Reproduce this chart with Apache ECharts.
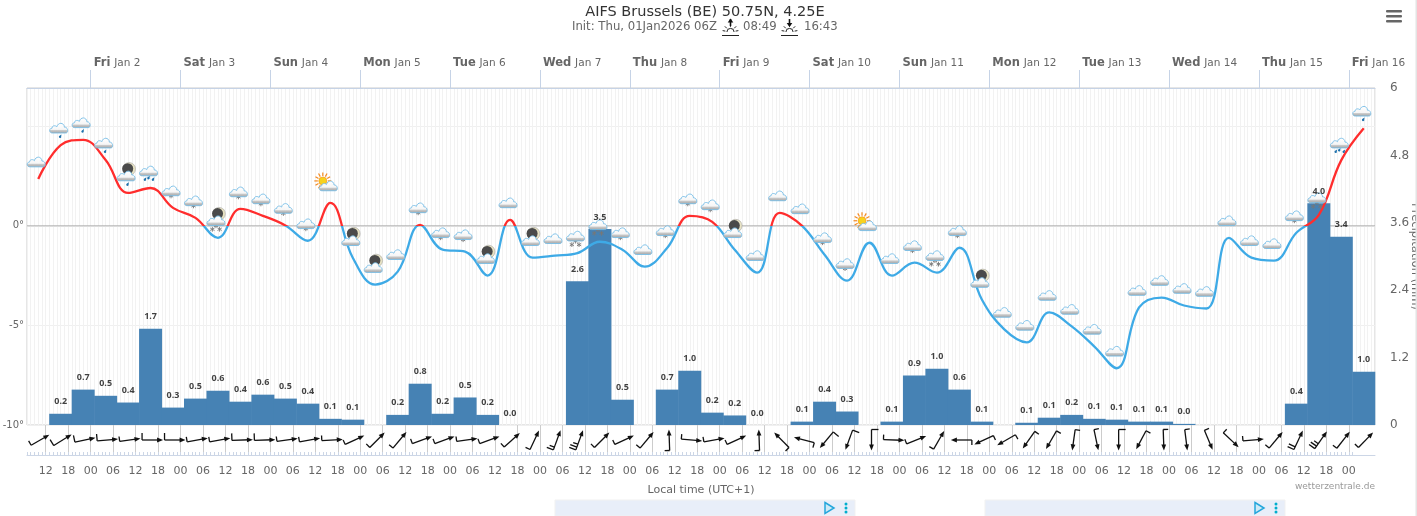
<!DOCTYPE html>
<html><head><meta charset="utf-8">
<style>html,body{margin:0;padding:0;background:#fff;overflow:hidden}#c{width:1417px;height:516px}</style>
<script src="https://cdn.jsdelivr.net/npm/echarts@6/dist/echarts.min.js"></script>
</head><body><div id="c"></div>
<script>
// ---------- data ----------
const temps = [2.35,4.05,4.32,3.3,1.65,1.9,0.9,0.4,-0.6,0.85,0.5,0.02,-0.75,1.15,-1.6,-2.95,-2.3,0.05,-1.2,-1.3,
 -2.5,0.3,-1.6,-1.5,-1.37,-0.8,-1.2,-2.05,-1.1,0.5,0.2,-1.2,-2.35,0.65,0.0,-1.45,-2.75,-0.85,-2.5,-1.85,
 -2.35,-1.1,-3.7,-5.2,-5.85,-4.35,-5.05,-6.05,-7.15,-4.1,-3.6,-4.0,-4.15,-0.6,-1.6,-1.75,-0.35,0.55,3.3,4.9];
const precip = [0.20,0.63,0.52,0.40,1.715,0.31,0.47,0.61,0.415,0.54,0.47,0.38,0.11,0.095,null,0.18,0.735,0.20,0.49,0.18,
 0,null,null,2.56,3.49,0.45,null,0.63,0.967,0.22,0.17,0,null,0.06,0.415,0.24,null,0.06,0.88,1.0,
 0.63,0.06,null,0.04,0.13,0.18,0.11,0.095,0.06,0.06,0.02,null,null,null,null,0.38,3.95,3.35,0.95];
const precipLabels = ['0.2','0.7','0.5','0.4','1.7','0.3','0.5','0.6','0.4','0.6','0.5','0.4','0.1','0.1',null,'0.2','0.8','0.2','0.5','0.2',
 '0.0',null,null,'2.6','3.5','0.5',null,'0.7','1.0','0.2','0.2','0.0',null,'0.1','0.4','0.3',null,'0.1','0.9','1.0',
 '0.6','0.1',null,'0.1','0.1','0.2','0.1','0.1','0.1','0.1','0.0',null,null,null,null,'0.4','4.0','3.4','1.0'];
const windAngle = [30,32,12,5,8,0,0,10,10,2,2,8,10,3,25,45,50,20,20,8,
 20,42,65,70,70,45,25,50,92,-5,10,25,92,135,165,230,250,270,-2,22,
 60,180,205,210,235,240,262,282,270,242,272,277,293,317,5,50,65,55,52,46];
const windKnots = [5,10,10,10,5,10,10,5,5,10,10,5,5,5,5,5,5,5,5,5,
 5,5,5,15,25,5,5,5,5,5,5,5,5,5,5,10,10,10,5,5,
 5,5,5,5,5,5,5,5,10,5,5,5,5,5,5,5,20,25,5,5];
const sky = ['c','r1','r1','r1','mr','r2','s1','s1','ms','s1','s1','s1','s1','u','m','m','c','s1','s1','s1',
 'm','c','m','c','s3','s3','s1','c','s1','s1','s1','m','c','c','c','s1','s1','u','c','s1',
 's3','s1','m','c','c','c','c','c','c','c','c','c','c','c','c','c','s1','s3','r3','r1'];
const dayLabels = ['Fri|Jan 2','Sat|Jan 3','Sun|Jan 4','Mon|Jan 5','Tue|Jan 6','Wed|Jan 7','Thu|Jan 8','Fri|Jan 9','Sat|Jan 10','Sun|Jan 11','Mon|Jan 12','Tue|Jan 13','Wed|Jan 14','Thu|Jan 15','Fri|Jan 16'];
const dayHours = dayLabels.map((_, i) => 24 * (i + 1));
const sixHourTicks = Array.from({length: 59}, (_, i) => 12 + 6 * i);
const hourTicks = Array.from({length: 355}, (_, i) => 7 + i);
const tempAxisTicks = [-10, -5, 0, 5];

const FONT = '"DejaVu Sans", sans-serif';
const chart = echarts.init(document.getElementById('c'), null, {renderer: 'canvas'});

const CLOUD = 'M-6.5,5 C-9.8,5 -9.8,0.2 -6.6,0.2 C-6.8,-2.4 -3.2,-2.6 -2,-1 C-1,-5.6 5,-5.6 5.4,-0.6 C8.8,-1.2 9.8,5 6.6,5 Z';
function star(x, y, r) {
  const out = [];
  for (let a = 0; a < 3; a++) {
    const t = a * Math.PI / 3 + Math.PI / 2;
    out.push({type: 'line', shape: {x1: x - r * Math.cos(t), y1: y - r * Math.sin(t), x2: x + r * Math.cos(t), y2: y + r * Math.sin(t)},
      style: {stroke: '#777', lineWidth: 0.9}});
  }
  return out;
}
function drop(x, y) {
  return {type: 'path', shape: {pathData: 'M1,0 L0.6,2 A1.3,1.3 0 1 1 -1.2,1.4 Z', x: x - 1.4, y: y - 1.7, width: 2.8, height: 3.6}, style: {fill: '#1f72ad'}};
}
function renderSky(params, api) {
  const p = api.coord([api.value(0), api.value(1)]);
  const kind = sky[params.dataIndex];
  const kids = [];
  if (kind[0] === 'm') {
    kids.push({type: 'circle', shape: {cx: 3, cy: -7, r: 6.4}, style: {fill: '#e8e3c4', stroke: '#999', lineWidth: 0.5}});
    kids.push({type: 'circle', shape: {cx: 1.6, cy: -7.2, r: 5.5}, style: {fill: '#4a4a4a'}});
  }
  if (kind === 'u') {
    for (let a = 0; a < 12; a++) {
      const t = Math.PI * 2 * a / 12;
      kids.push({type: 'line', shape: {x1: -5.5 + 5 * Math.cos(t), y1: -5 + 5 * Math.sin(t), x2: -5.5 + 8.5 * Math.cos(t), y2: -5 + 8.5 * Math.sin(t)},
        style: {stroke: '#f58a1f', lineWidth: 1.2}});
    }
    kids.push({type: 'circle', shape: {cx: -5.5, cy: -5, r: 4}, style: {fill: '#f7d21e', stroke: '#f58a1f', lineWidth: 0.6}});
  }
  if (kind[1] === 's' || kind[0] === 's') {
    const n = kind === 's1' ? 1 : 3;
    kids.push(...star(0, 5, 2.4));
    if (n === 3) { kids.push(...star(-3.6, 8.5, 2.4)); kids.push(...star(3.6, 8.5, 2.4)); }
  }
  if (kind === 'r1' || kind === 'mr') kids.push(drop(1.5, 8));
  if (kind === 'r2' || kind === 'r3') { kids.push(drop(-3.5, 8)); kids.push(drop(0, 6.5)); kids.push(drop(4.5, 8)); }
  kids.push({type: 'path', shape: {pathData: CLOUD, x: -9, y: -5.5, width: 18, height: 11},
    style: {fill: new echarts.graphic.LinearGradient(0, 0, 0, 1, [
      {offset: 0, color: '#ffffff'}, {offset: 0.62, color: '#f6f6f6'}, {offset: 0.72, color: '#c9c9c9'}, {offset: 1, color: '#a0a0a0'}]),
      stroke: '#77bde6', lineWidth: 0.9}});
  return {type: 'group', x: p[0] - 2, y: p[1] - 17, children: kids};
}
function renderBarb(params, api) {
  const p = api.coord([api.value(0), api.value(1)]);
  const a = windAngle[params.dataIndex] * Math.PI / 180;
  const kn = windKnots[params.dataIndex];
  const ux = Math.cos(a), uy = -Math.sin(a);       // flow direction on screen
  const lx = uy, ly = -ux;                         // left-hand side of the flow
  const cx = p[0] + 2, cy = p[1];
  const L = 10.5;
  const hx = cx + ux * L, hy = cy + uy * L, tx = cx - ux * L, ty = cy - uy * L;
  const st = {stroke: '#111', lineWidth: 1.3};
  const kids = [{type: 'line', shape: {x1: tx, y1: ty, x2: hx - ux * 3, y2: hy - uy * 3}, style: st}];
  kids.push({type: 'polygon', shape: {points: [[hx, hy], [hx - ux * 6 + lx * 2.4, hy - uy * 6 + ly * 2.4], [hx - ux * 6 - lx * 2.4, hy - uy * 6 - ly * 2.4]]}, style: {fill: '#111'}});
  let left = kn, d = 0;
  while (left > 0) {
    const len = left >= 10 ? 7 : 5;
    const bx = tx + ux * d, by = ty + uy * d;
    kids.push({type: 'line', shape: {x1: bx, y1: by, x2: bx + lx * len, y2: by + ly * len}, style: st});
    left -= 10; d += 3;
  }
  return {type: 'group', children: kids};
}

const hours = temps.map((_, i) => 10 + 6 * i);
const barHours = precip.map((_, i) => 16 + 6 * i);

function sunIcon(x, up) {
  const cx = x + 8.5, cy = 32;
  const kids = [];
  kids.push({type: 'line', shape: {x1: x, y1: 35.5, x2: x + 17, y2: 35.5}, style: {stroke: '#222', lineWidth: 1}});
  kids.push({type: 'arc', shape: {cx, cy, r: 3.6, startAngle: Math.PI, endAngle: 0}, style: {stroke: '#222', fill: null, lineWidth: 1}});
  for (const t of [190, 225, 270, 315, 350]) {
    const r = t * Math.PI / 180;
    kids.push({type: 'line', shape: {x1: cx + 5.2 * Math.cos(r), y1: cy + 5.2 * Math.sin(r), x2: cx + 8 * Math.cos(r), y2: cy + 8 * Math.sin(r)}, style: {stroke: '#222', lineWidth: 1}});
  }
  kids.push({type: 'line', shape: {x1: cx, y1: 19, x2: cx, y2: 26}, style: {stroke: '#111', lineWidth: 1.6}});
  kids.push({type: 'polygon', shape: {points: up ? [[cx, 18.5], [cx - 2.8, 22.5], [cx + 2.8, 22.5]] : [[cx, 27], [cx - 2.8, 23], [cx + 2.8, 23]]}, style: {fill: '#111'}});
  return {type: 'group', children: kids};
}
function adBox(x) {
  return {type: 'group', children: [
    {type: 'rect', shape: {x, y: 500, width: 300, height: 16}, style: {fill: '#e8eef9', stroke: '#f1f1f1', lineWidth: 1}},
    {type: 'polygon', shape: {points: [[x + 270, 502.5], [x + 279, 508], [x + 270, 513.5]]}, style: {fill: '#cfeaf6', stroke: '#25a7dc', lineWidth: 1.5}},
    {type: 'circle', shape: {cx: x + 291, cy: 504, r: 1.5}, style: {fill: '#00aecd'}},
    {type: 'circle', shape: {cx: x + 291, cy: 508, r: 1.5}, style: {fill: '#00aecd'}},
    {type: 'circle', shape: {cx: x + 291, cy: 512, r: 1.5}, style: {fill: '#00aecd'}}
  ]};
}

const option = {
  animation: false,
  backgroundColor: '#fff',
  textStyle: {fontFamily: FONT},
  grid: [
    {left: 27, right: 42, top: 88, height: 337, outerBoundsMode: 'none', containLabel: false, show: true, borderColor: '#cccccc', borderWidth: 1, backgroundColor: '#fff'},
    {left: 27, right: 42, top: 425, height: 30, outerBoundsMode: 'none', containLabel: false}
  ],
  xAxis: [
    {gridIndex: 0, type: 'value', position: 'top', min: 7, max: 367,
     axisLine: {show: true, onZero: false, lineStyle: {color: '#c6d3e6'}},
     axisTick: {show: true, customValues: dayHours, length: 18, lineStyle: {color: '#c6d3e6'}},
     axisLabel: {show: true, customValues: dayHours, align: 'left', margin: 19, padding: [0, 0, 0, 3], hideOverlap: false,
       showMinLabel: true, showMaxLabel: true,
       formatter: v => { const s = dayLabels[v / 24 - 1].split('|'); return '{d|' + s[0] + '} {n|' + s[1] + '}'; },
       rich: {d: {fontFamily: FONT, fontSize: 11.5, fontWeight: 'bold', color: '#666'}, n: {fontFamily: FONT, fontSize: 10.5, color: '#666'}}},
     splitLine: {show: true, lineStyle: {color: '#e6e6e6'}}},
    {gridIndex: 0, type: 'value', position: 'bottom', min: 7, max: 367, interval: 1,
     axisLine: {show: false, onZero: false}, axisTick: {show: false}, axisLabel: {show: false},
     splitLine: {show: true, lineStyle: {color: '#f2f2f2'}}},
    {gridIndex: 1, type: 'value', position: 'bottom', min: 7, max: 367,
     name: 'Local time (UTC+1)', nameLocation: 'middle', nameGap: 30,
     nameTextStyle: {fontFamily: FONT, fontSize: 11, color: '#666'},
     axisLine: {show: true, onZero: false, lineStyle: {color: '#ccd6e6'}},
     axisTick: {show: true, customValues: sixHourTicks, inside: true, length: 30, lineStyle: {color: '#cccccc'}},
     axisLabel: {show: true, customValues: sixHourTicks, margin: 11, fontFamily: FONT, fontSize: 11, color: '#666',
       formatter: v => String(v % 24).padStart(2, '0')},
     splitLine: {show: false}},
    {gridIndex: 1, type: 'value', position: 'bottom', min: 7, max: 367,
     axisLine: {show: false, onZero: false},
     axisTick: {show: true, customValues: hourTicks, inside: true, length: 3, lineStyle: {color: '#ccd6e6'}},
     axisLabel: {show: false}, splitLine: {show: false}}
  ],
  yAxis: [
    {gridIndex: 0, type: 'value', min: -10, max: 6.92, interval: 5, position: 'left',
     axisLine: {show: false}, axisTick: {show: false},
     axisLabel: {show: true, showMaxLabel: false, customValues: tempAxisTicks, margin: 3, fontFamily: FONT, fontSize: 10, color: '#666', formatter: v => v + '°'},
     splitLine: {show: true, lineStyle: {color: '#f0f0f0'}}},
    {gridIndex: 0, type: 'value', min: 0, max: 6, interval: 1.2, position: 'right',
     name: 'Precipitation (mm)', nameLocation: 'middle', nameRotate: -90, nameGap: 34, nameMoveOverlap: false,
     nameTextStyle: {fontFamily: FONT, fontSize: 11.5, color: '#666'},
     axisLine: {show: false}, axisTick: {show: false},
     axisLabel: {margin: 15, fontFamily: FONT, fontSize: 12, color: '#666'},
     splitLine: {show: false}},
    {gridIndex: 1, type: 'value', min: 0, max: 1, show: false}
  ],
  visualMap: {type: 'piecewise', show: false, seriesIndex: 1, dimension: 1,
    pieces: [{gte: -10, lte: 0, color: '#3eaae6'}, {gt: 0, lte: 6.92, color: '#ff2d2d'}]},
  series: [
    {name: 'Precipitation', type: 'bar', xAxisIndex: 0, yAxisIndex: 1, barWidth: 23, z: 2,
     itemStyle: {color: '#4682b4', borderWidth: 0},
     data: precip.map((v, i) => [barHours[i], v])},
    {name: 'Temperature', type: 'line', xAxisIndex: 0, yAxisIndex: 0, smooth: 0.4, smoothConstraint: false, showSymbol: false, symbol: 'none', z: 4,
     lineStyle: {width: 2.3},
     data: temps.map((v, i) => [hours[i], v])},
    {name: 'Zero', type: 'line', xAxisIndex: 0, yAxisIndex: 0, symbol: 'none', z: 1, silent: true,
     lineStyle: {color: '#b0b0b0', width: 1}, data: [[7, 0], [367, 0]]},
    {name: 'Sky', type: 'custom', xAxisIndex: 0, yAxisIndex: 0, z: 5, clip: false, renderItem: renderSky,
     data: temps.map((v, i) => [hours[i], v])},
    {name: 'Labels', type: 'scatter', xAxisIndex: 0, yAxisIndex: 1, symbol: 'circle', symbolSize: 1, z: 6, silent: true,
     itemStyle: {color: 'rgba(0,0,0,0)'},
     label: {show: true, position: 'top', distance: 7, fontFamily: '"Open Sans", sans-serif', fontSize: 9, fontWeight: 'bold', color: '#111',
       formatter: p => p.data[2]},
     labelLayout: {hideOverlap: false},
     data: precip.map((v, i) => [barHours[i], v, precipLabels[i]]).filter(d => d[1] !== null)},
    {name: 'Wind', type: 'custom', xAxisIndex: 2, yAxisIndex: 2, z: 5, clip: false, renderItem: renderBarb,
     data: hours.map(h => [h, 0.5])}
  ],
  graphic: {elements: [
    {type: 'text', x: 705, y: 12, style: {text: 'AIFS Brussels (BE) 50.75N, 4.25E', fontFamily: FONT, fontSize: 14.5, fill: '#333', align: 'center', verticalAlign: 'middle'}},
    {type: 'text', x: 572, y: 27, style: {text: 'Init: Thu, 01Jan2026 06Z', fontFamily: FONT, fontSize: 11.7, fill: '#666', verticalAlign: 'middle'}},
    {type: 'text', x: 743, y: 27, style: {text: '08:49', fontFamily: FONT, fontSize: 11.7, fill: '#666', verticalAlign: 'middle'}},
    {type: 'text', x: 804, y: 27, style: {text: '16:43', fontFamily: FONT, fontSize: 11.7, fill: '#666', verticalAlign: 'middle'}},
    sunIcon(722, true), sunIcon(781, false),
    {type: 'text', x: 1375, y: 487, style: {text: 'wetterzentrale.de', fontFamily: FONT, fontSize: 9, fill: '#999', align: 'right', verticalAlign: 'middle'}},
    {type: 'rect', shape: {x: 1386, y: 10, width: 16, height: 2.6, r: 1}, style: {fill: '#666'}},
    {type: 'rect', shape: {x: 1386, y: 15, width: 16, height: 2.6, r: 1}, style: {fill: '#666'}},
    {type: 'rect', shape: {x: 1386, y: 20, width: 16, height: 2.6, r: 1}, style: {fill: '#666'}},
    {type: 'rect', z: 100, shape: {x: 1415.5, y: 0, width: 1.5, height: 516}, style: {fill: '#e4e4e4'}},
    adBox(555), adBox(985)
  ]}
};
chart.setOption(option);
</script></body></html>
